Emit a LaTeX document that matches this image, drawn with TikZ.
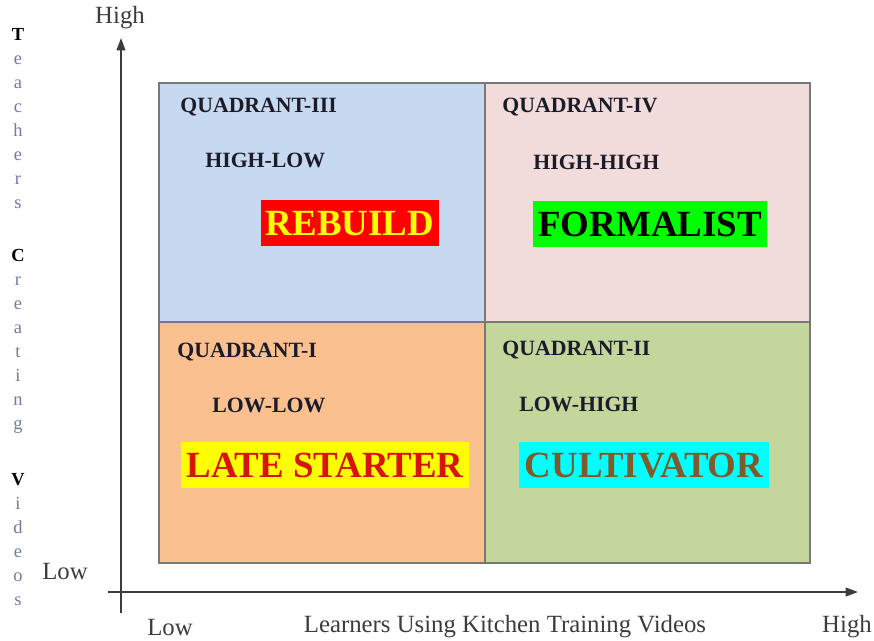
\documentclass[tikz,border=0pt]{standalone}
\usepackage{fontspec}
\setmainfont{Liberation Serif}
\usetikzlibrary{arrows.meta,positioning}
\definecolor{quadblue}{RGB}{198, 217, 241}
\definecolor{quadpink}{RGB}{242, 220, 219}
\definecolor{quadorange}{RGB}{250, 192, 144}
\definecolor{quadgreen}{RGB}{195, 214, 155}
\definecolor{quadedge}{RGB}{120, 120, 120}
\definecolor{axisgray}{RGB}{60, 60, 60}
\definecolor{lettergray}{RGB}{112, 122, 165}
\definecolor{titleink}{RGB}{28, 28, 40}
\definecolor{cultbrown}{RGB}{128, 90, 40}
\definecolor{starterred}{RGB}{215, 20, 10}
\definecolor{badgered}{RGB}{255, 0, 0}
\definecolor{badgegreen}{RGB}{0, 255, 0}
\definecolor{badgeyellow}{RGB}{255, 255, 0}
\definecolor{badgecyan}{RGB}{0, 255, 255}

\begin{document}
\begin{tikzpicture}[x=0.02cm, y=-0.02cm,
    quadtitle/.style={anchor=west, font=\fontsize{12.4}{14}\selectfont\bfseries, text=titleink, inner sep=0pt},
    badge/.style={font=\fontsize{21}{24}\selectfont\bfseries, inner xsep=3pt, inner ysep=6pt, text height=14pt, text depth=0pt},
    axislabel/.style={font=\fontsize{14.1}{16}\selectfont, text=axisgray, inner sep=0pt},
    capletter/.style={anchor=base, font=\fontsize{10.5}{12}\selectfont\bfseries, text=black, inner sep=0pt},
    lowletter/.style={anchor=base, font=\fontsize{10.5}{12}\selectfont, text=lettergray, inner sep=0pt}]

\useasboundingbox (0,0) rectangle (874,640);

% Quadrant fields
\fill[quadblue] (159,83) rectangle (485,322);
\fill[quadpink] (485,83) rectangle (810,322);
\fill[quadorange] (159,322) rectangle (485,563);
\fill[quadgreen] (485,322) rectangle (810,563);
\draw[quadedge, line width=0.6pt] (159,83) rectangle (810,563);
\draw[quadedge, line width=0.6pt] (485,83) -- (485,563);
\draw[quadedge, line width=0.6pt] (159,322) -- (810,322);

% Axes
\coordinate (yfoot) at (121,613);
\coordinate (ytop) at (121,38);
\coordinate (xfoot) at (108,592);
\coordinate (xtip) at (858,592);
\draw[axisgray, line width=0.8pt, -{Triangle[length=7pt, width=5pt]}] (yfoot) -- (ytop);
\draw[axisgray, line width=0.8pt, -{Triangle[length=7pt, width=5pt]}] (xfoot) -- (xtip);

% Axis labels
\node[axislabel] (yhigh) at (120,18) {High};
\node[axislabel] (ylow) at (65,571) {Low};
\node[axislabel] (xlow) at (170,627) {Low};
\node[axislabel] (xname) at (505,627) {Learners Using Kitchen Training Videos};
\node[axislabel] (xhigh) at (847,627) {High};

% Stacked vertical axis name
\foreach \ch/\yy [count=\i] in {T/35, C/256, V/480}
    \node[capletter] (cap\i) at (18,\yy+5) {\ch};
\foreach \ch/\yy [count=\i] in {e/59, a/83, c/107, h/131, e/155, r/179, s/203,
                                r/280, e/304, a/328, t/352, i/376, n/400, g/424,
                                i/504, d/528, e/552, o/576, s/600}
    \node[lowletter] (low\i) at (18,\yy+5) {\ch};

% Quadrant III
\node[quadtitle] (q3title) at (180,107) {QUADRANT-III};
\node[quadtitle] (q3code) at (205,160) {HIGH-LOW};
\node[badge, fill=badgered, text=badgeyellow] (rebuild) at (350,223) {REBUILD};

% Quadrant IV
\node[quadtitle] (q4title) at (502,107) {QUADRANT-IV};
\node[quadtitle] (q4code) at (533,162) {HIGH-HIGH};
\node[badge, fill=badgegreen, text=black] (formalist) at (650,224) {FORMALIST};

% Quadrant I
\node[quadtitle] (q1title) at (177,352) {QUADRANT-I};
\node[quadtitle] (q1code) at (212,405) {LOW-LOW};
\node[badge, fill=badgeyellow, text=starterred] (starter) at (325,465) {LATE STARTER};

% Quadrant II
\node[quadtitle] (q2title) at (502,350) {QUADRANT-II};
\node[quadtitle] (q2code) at (519,404) {LOW-HIGH};
\node[badge, fill=badgecyan, text=cultbrown] (cultivator) at (644,465) {CULTIVATOR};

\end{tikzpicture}
\end{document}
